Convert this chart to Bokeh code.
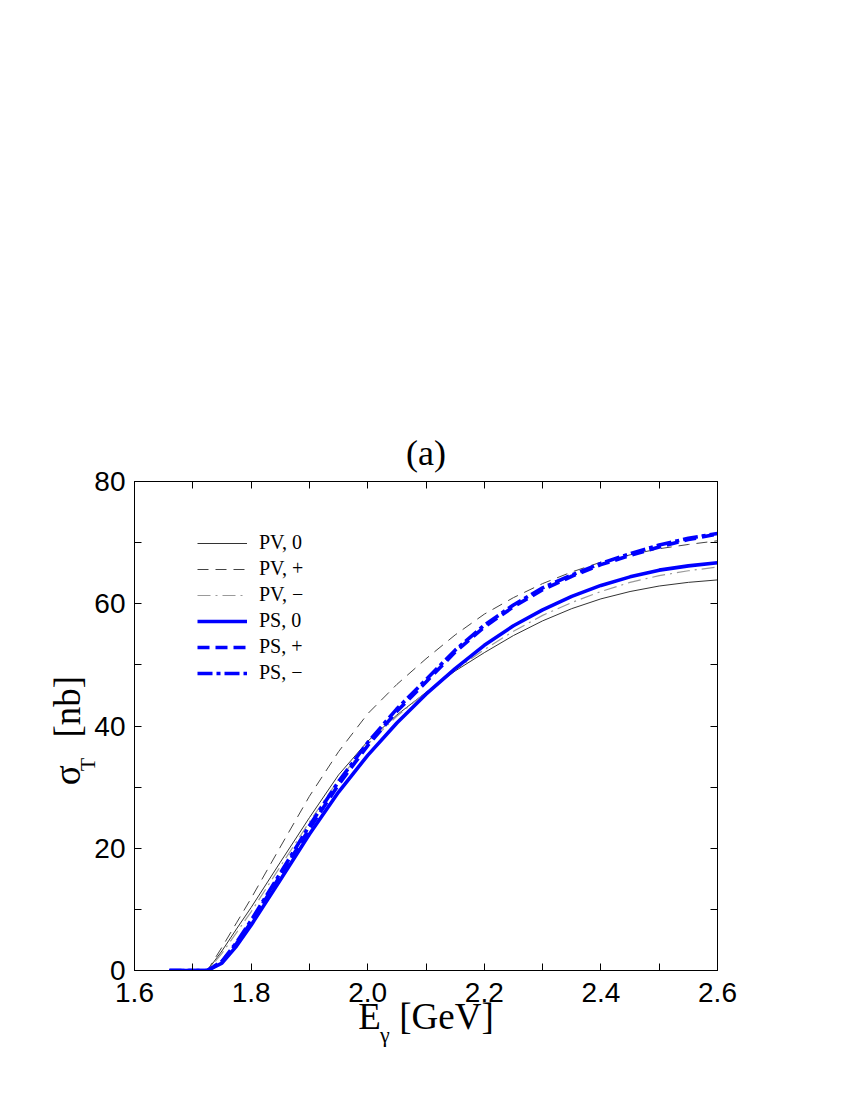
from bokeh.plotting import figure
from bokeh.models import (Range1d, LinearAxis, FixedTicker, Legend, LegendItem,
                          Title, CustomJSTickFormatter)
from bokeh.embed import file_html
from bokeh.resources import INLINE

# ---------------- data ----------------
energy = [1.66, 1.70, 1.725, 1.75, 1.775, 1.80, 1.85, 1.90, 1.95, 2.00, 2.05,
          2.10, 2.15, 2.20, 2.25, 2.30, 2.35, 2.40, 2.45, 2.50, 2.55, 2.60]

pv_0 = [0, 0, 0, 3.2, 6.8, 10.3, 17.7, 25.0, 32.0, 37.5, 41.8,
        45.5, 49.0, 52.0, 54.8, 57.2, 59.2, 60.8, 62.0, 62.9, 63.5, 63.9]
pv_plus = [0, 0, 0, 3.8, 7.8, 11.8, 20.2, 28.5, 35.8, 42.0, 46.8,
           51.0, 54.9, 58.3, 61.0, 63.3, 65.2, 66.8, 68.0, 69.0, 69.7, 70.3]
pv_minus = [0, 0, 0, 2.8, 6.2, 9.6, 17.0, 24.3, 31.2, 37.0, 41.6,
            45.5, 49.2, 52.5, 55.5, 58.1, 60.2, 62.0, 63.5, 64.6, 65.4, 66.0]
ps_0 = [0, 0, 0, 1.2, 4.0, 7.4, 14.8, 22.3, 29.2, 35.2, 40.5,
        45.2, 49.4, 53.2, 56.4, 59.0, 61.2, 63.0, 64.4, 65.5, 66.2, 66.7]
ps_plus = [0, 0, 0, 1.4, 4.4, 7.9, 15.5, 23.2, 30.4, 36.8, 42.4,
           47.2, 52.1, 56.2, 59.5, 62.3, 64.5, 66.4, 67.9, 69.3, 70.5, 71.4]
ps_minus = [0, 0, 0, 1.5, 4.6, 8.2, 15.9, 23.7, 30.9, 37.3, 42.8,
            47.6, 52.4, 56.5, 59.8, 62.6, 64.7, 66.6, 68.2, 69.6, 70.7, 71.5]

series_names = ["PV, 0", "PV, +", "PV, \u2212", "PS, 0", "PS, +", "PS, \u2212"]

x_ticks = [1.6, 1.8, 2.0, 2.2, 2.4, 2.6]
x_tick_labels = ["1.6", "1.8", "2.0", "2.2", "2.4", "2.6"]
x_minor = [1.7, 1.9, 2.1, 2.3, 2.5]
y_ticks = [0, 20, 40, 60, 80]
y_tick_labels = ["0", "20", "40", "60", "80"]
y_minor = [10, 30, 50, 70]

# ---------------- figure ----------------
FL, FR, FT, FB = 134, 117, 481, 90
p = figure(width=834, height=1060, x_range=Range1d(1.6, 2.6), y_range=Range1d(0, 80),
           output_backend="svg", toolbar_location=None,
           min_border_left=FL, min_border_right=FR, min_border_top=FT, min_border_bottom=FB)
p.title.text = ""
p.title.visible = False
p.xgrid.visible = False
p.ygrid.visible = False
p.outline_line_color = "black"
p.outline_line_width = 1
p.background_fill_color = "white"
p.border_fill_color = "white"

SERIF = "Liberation Serif"
blank = CustomJSTickFormatter(code="return ''")
EM = "\u2003"
EN = "\u2002"
NBSP = "\u00a0"

def style_axis(ax):
    ax.axis_line_color = "black"
    ax.major_tick_in = 7
    ax.major_tick_out = 0
    ax.minor_tick_in = 7
    ax.minor_tick_out = 0
    ax.major_tick_line_color = "black"
    ax.minor_tick_line_color = "black"
    ax.major_label_text_font = "Liberation Sans"
    ax.major_label_text_font_size = "28px"
    ax.major_label_text_color = "black"

def style_label(ax, size):
    ax.axis_label_text_font = SERIF
    ax.axis_label_text_font_size = size
    ax.axis_label_text_font_style = "normal"
    ax.axis_label_text_color = "black"

def label_only_axis(text, size, standoff):
    ax = LinearAxis(ticker=FixedTicker(ticks=[]), formatter=blank)
    ax.axis_line_color = None
    ax.major_tick_line_color = None
    ax.minor_tick_line_color = None
    ax.major_label_standoff = 0
    ax.axis_label = text
    style_label(ax, size)
    ax.axis_label_standoff = standoff
    return ax

# bottom axis with "E [GeV]" label
xa = p.xaxis[0]
xa.ticker = FixedTicker(ticks=x_ticks, minor_ticks=x_minor)
xa.major_label_overrides = dict(zip(x_ticks, x_tick_labels))
style_axis(xa)
xa.major_label_standoff = 12
xa.axis_label = "E" + EN + "[GeV]"
style_label(xa, "37px")
xa.axis_label_standoff = -9

# subscript gamma under the x label
p.add_layout(label_only_axis("\u03b3" + EM * 3 + EN + NBSP, "22px", -18), "below")

# left axis with the subscript "T" as inner label
ya = p.yaxis[0]
ya.ticker = FixedTicker(ticks=y_ticks, minor_ticks=y_minor)
ya.major_label_overrides = dict(zip(y_ticks, y_tick_labels))
style_axis(ya)
ya.major_label_standoff = 9
ya.axis_label = "T" + EM * 3 + EN
style_label(ya, "22px")
ya.axis_label_standoff = -9

# outer left axis carrying "sigma [nb]"
p.add_layout(label_only_axis("\u03c3" + EN + NBSP + "[nb]" + NBSP, "37px", -15), "left")

# mirrored axes (ticks only)
top = LinearAxis(ticker=FixedTicker(ticks=x_ticks, minor_ticks=x_minor), formatter=blank)
style_axis(top)
top.major_label_standoff = 0
p.add_layout(top, "above")
right = LinearAxis(ticker=FixedTicker(ticks=y_ticks, minor_ticks=y_minor), formatter=blank)
style_axis(right)
right.major_label_standoff = 0
p.add_layout(right, "right")

# ---------------- curves ----------------
styles = [
    (pv_0, dict(line_color="#333333", line_width=1.0)),
    (pv_plus, dict(line_color="#444444", line_width=1.0, line_dash="11 7")),
    (pv_minus, dict(line_color="#9a9a9a", line_width=1.2, line_dash="13 5 2 5")),
    (ps_0, dict(line_color="#0000ff", line_width=3.6)),
    (ps_plus, dict(line_color="#0000ff", line_width=3.6, line_dash="12 6")),
    (ps_minus, dict(line_color="#0000ff", line_width=3.6, line_dash="15 4 4 4")),
]
renderers = []
for ys, st in styles:
    renderers.append(p.line(energy, ys, **st))

items = [LegendItem(label=n, renderers=[r]) for n, r in zip(series_names, renderers)]
legend = Legend(items=items, location=(63, 286))
legend.glyph_width = 50
legend.glyph_height = 20
legend.label_height = 20
legend.label_standoff = 12
legend.spacing = 3
legend.padding = 0
legend.margin = 0
legend.border_line_color = None
legend.background_fill_alpha = 0
legend.label_text_font = SERIF
legend.label_text_font_size = "20px"
legend.label_text_color = "black"
p.add_layout(legend, "center")

# ---------------- title ----------------
p.add_layout(Title(text="(a)", text_font=SERIF, text_font_size="36px", text_font_style="normal",
                   text_color="black", align="center", standoff=18), "above")

open("out.html", "w").write(file_html(p, INLINE))
